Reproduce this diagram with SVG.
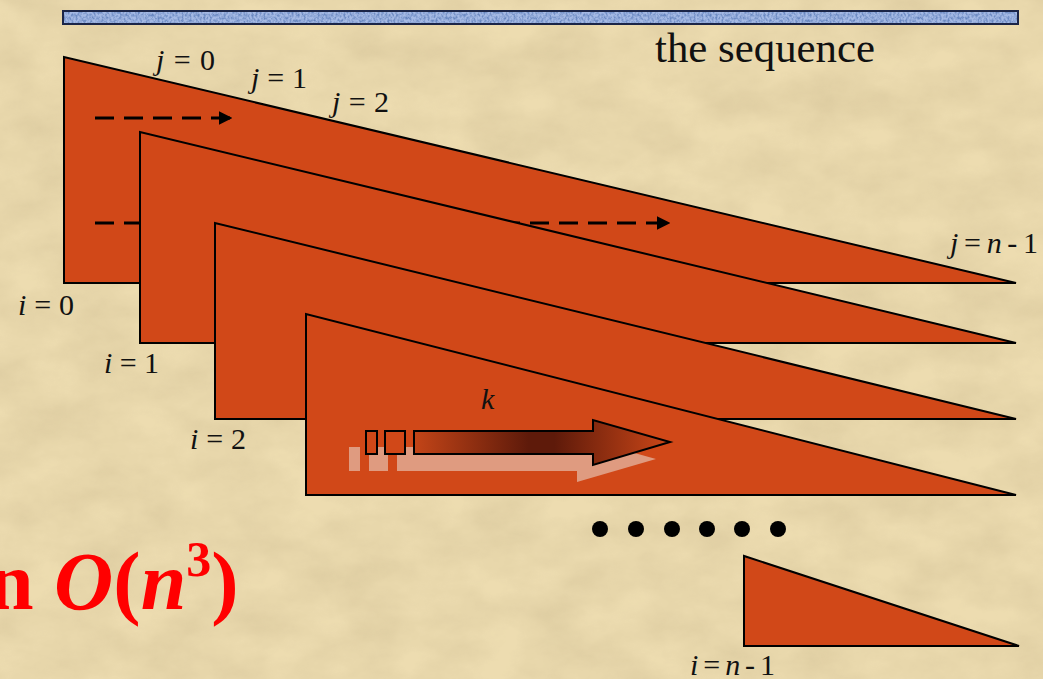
<svg xmlns="http://www.w3.org/2000/svg" width="1043" height="679" viewBox="0 0 1043 679">
<defs>
<style>
.tri{fill:#d14818;stroke:#000;stroke-width:2;stroke-linejoin:miter}
.lbl{font-family:"Liberation Serif",serif;font-size:30px;fill:#111}
.it{font-style:italic}
.dash{stroke:#000;stroke-width:3;stroke-dasharray:19 10;fill:none}
</style>
<filter id="paper" x="0" y="0" width="100%" height="100%">
<feTurbulence type="fractalNoise" baseFrequency="0.015 0.025" numOctaves="5" seed="7" result="n"/>
<feColorMatrix in="n" type="matrix" values="0 0 0 0 0.55  0 0 0 0 0.45  0 0 0 0 0.25  0 0 0 1.2 -0.3"/>
</filter>
<filter id="noiseBlue" x="0" y="0" width="100%" height="100%">
<feTurbulence type="fractalNoise" baseFrequency="0.5 0.35" numOctaves="2" seed="3" result="n"/>
<feColorMatrix in="n" type="matrix" values="0 0 0 0 0.12  0 0 0 0 0.22  0 0 0 0 0.5  0 0 0 2.4 -0.9"/>
</filter>
<linearGradient id="kgrad" x1="413" y1="0" x2="670" y2="0" gradientUnits="userSpaceOnUse">
<stop offset="0" stop-color="#c44518"/>
<stop offset="0.45" stop-color="#5e1a0a"/>
<stop offset="0.55" stop-color="#5e1a0a"/>
<stop offset="1" stop-color="#cc4718"/>
</linearGradient>
<marker id="ah" viewBox="0 0 10 10" refX="9" refY="5" markerWidth="4.5" markerHeight="4.5" orient="auto" markerUnits="strokeWidth">
<path d="M0,0 L10,5 L0,10 z" fill="#000"/>
</marker>
</defs>

<g id="background">
<rect width="1043" height="679" fill="#eddcb0"/>
<rect width="1043" height="679" filter="url(#paper)" opacity="0.45"/>
</g>

<g id="sequence">
<rect x="63" y="11" width="955" height="13" fill="#a4b9e4" stroke="#1b2547" stroke-width="2"/>
<rect x="64" y="12" width="953" height="11" filter="url(#noiseBlue)" opacity="0.9"/>
<text class="lbl" x="655" y="62" style="font-size:42px" textLength="220" lengthAdjust="spacingAndGlyphs">the sequence</text>
</g>

<g id="tri-i0">
<polygon class="tri" points="64,57 64,283 1016,283"/>
</g>

<g id="connectors">
<line class="dash" x1="95" y1="118" x2="231" y2="118" marker-end="url(#ah)"/>
<line class="dash" x1="95" y1="223" x2="669" y2="223" marker-end="url(#ah)"/>
</g>

<g id="tri-i1">
<polygon class="tri" points="140,132 140,343 1016,343"/>
</g>
<g id="tri-i2">
<polygon class="tri" points="215,223 215,419 1016,419"/>
</g>
<g id="tri-i3">
<polygon class="tri" points="306,314 306,495 1016,495"/>
</g>

<g id="k-arrow">
<g fill="#df9b80">
<rect x="349" y="447" width="11" height="24"/>
<rect x="369" y="447" width="19" height="24"/>
<polygon points="397,447 577,447 577,437 656,459 577,482 577,471 397,471"/>
</g>
<g stroke="#000" stroke-width="2">
<rect x="366" y="431" width="11" height="23" fill="#d14818"/>
<rect x="385" y="431" width="20" height="23" fill="#d14818"/>
<polygon points="414,431 593,431 593,420 670,442 593,465 593,454 414,454" fill="url(#kgrad)"/>
</g>
<text class="lbl it" x="481" y="409">k</text>
</g>

<g id="dots" fill="#000">
<circle cx="600" cy="529" r="8"/>
<circle cx="636" cy="529" r="8"/>
<circle cx="672" cy="529" r="8"/>
<circle cx="707" cy="529" r="8"/>
<circle cx="742" cy="529" r="8"/>
<circle cx="778" cy="529" r="8"/>
</g>

<g id="tri-in1">
<polygon class="tri" points="744,556 744,646 1019,646"/>
</g>

<g id="labels">
<text class="lbl" x="156" y="70" textLength="59" lengthAdjust="spacing"><tspan class="it">j</tspan>=0</text>
<text class="lbl" x="251" y="88" textLength="56" lengthAdjust="spacing"><tspan class="it">j</tspan>=1</text>
<text class="lbl" x="332" y="112" textLength="57" lengthAdjust="spacing"><tspan class="it">j</tspan>=2</text>
<text class="lbl" x="950" y="253" textLength="88" lengthAdjust="spacing"><tspan class="it">j</tspan>=<tspan class="it">n</tspan>-1</text>
<text class="lbl" x="18" y="315" textLength="56" lengthAdjust="spacing"><tspan class="it">i</tspan>=0</text>
<text class="lbl" x="104" y="373" textLength="55" lengthAdjust="spacing"><tspan class="it">i</tspan>=1</text>
<text class="lbl" x="190" y="449" textLength="56" lengthAdjust="spacing"><tspan class="it">i</tspan>=2</text>
<text class="lbl" x="690" y="675" textLength="85" lengthAdjust="spacing"><tspan class="it">i</tspan>=<tspan class="it">n</tspan>-1</text>
</g>

<g id="complexity">
<text x="-12" y="609" font-family="'Liberation Serif',serif" font-size="82" font-weight="bold" fill="#f00">n <tspan font-style="italic">O</tspan>(<tspan font-style="italic">n</tspan><tspan font-size="50" dy="-33">3</tspan><tspan dy="33">)</tspan></text>
</g>
</svg>
